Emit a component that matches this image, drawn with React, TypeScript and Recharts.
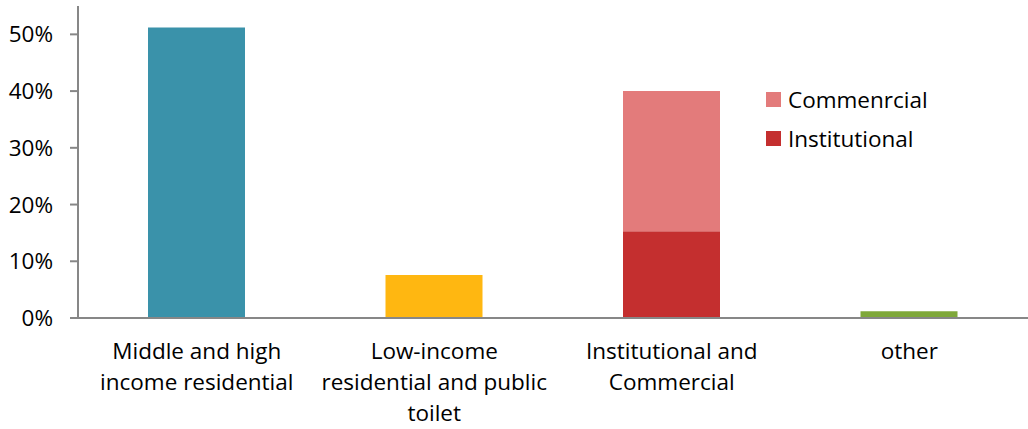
import React from "react";
import { BarChart, Bar, XAxis, YAxis, Cell } from "recharts";

const categories = [
  "Middle and high income residential",
  "Low-income residential and public toilet",
  "Institutional and Commercial",
  "other",
];
const tickLabelLines = [
  ["Middle and high", "income residential"],
  ["Low-income", "residential and public", "toilet"],
  ["Institutional and", "Commercial"],
  ["other"],
];
const baseValues = [0.512, 0.076, 0.153, 0.012];
const commercialValues = [0, 0, 0.247, 0];
const baseColors = ["#3A92AA", "#FFB711", "#C42F2F", "#7FA83A"];
const commercialColor = "#E37B7B";
const yTicks = [0, 0.1, 0.2, 0.3, 0.4, 0.5];
const legendItems = [
  { name: "Commenrcial", color: commercialColor },
  { name: "Institutional", color: "#C42F2F" },
];

const data = categories.map((c, i) => ({
  name: c,
  idx: i,
  base: baseValues[i],
  commercial: commercialValues[i],
}));

const FONT = "'Open Sans', sans-serif";
const FS = 22.5;

const XTick = (props: any) => {
  const { x, y, payload } = props;
  const lines = tickLabelLines[payload.index] || [String(payload.value)];
  return (
    <g>
      {lines.map((l: string, i: number) => (
        <text
          key={i}
          x={x}
          y={y + 33 + i * 31}
          textAnchor="middle"
          fontSize={FS}
          fontFamily={FONT}
          fill="#000"
        >
          {l}
        </text>
      ))}
    </g>
  );
};

export default function App() {
  return (
    <div style={{ position: "absolute", left: 0, top: 0, width: 1028, height: 429, background: "#fff" }}>
      <BarChart
        width={1028}
        height={429}
        data={data}
        margin={{ top: 6, right: 0, bottom: 0, left: 0 }}
      >
        <YAxis
          width={78}
          domain={[0, 0.55]}
          ticks={yTicks}
          allowDataOverflow
          tickFormatter={(v: number) => `${Math.round(v * 100)}%`}
          stroke="#878787"
          strokeWidth={2}
          tickSize={8}
          tickMargin={17}
          tick={{ fill: "#000", fontSize: FS, fontFamily: FONT }}
        />
        <XAxis
          dataKey="name"
          height={111}
          stroke="#878787"
          strokeWidth={2}
          tickLine={false}
          interval={0}
          tick={<XTick />}
        />
        <Bar dataKey="base" stackId="a" barSize={97} isAnimationActive={false}>
          {data.map((d, i) => (
            <Cell key={i} fill={baseColors[i]} />
          ))}
        </Bar>
        <Bar
          dataKey="commercial"
          stackId="a"
          barSize={97}
          fill={commercialColor}
          isAnimationActive={false}
        />
      </BarChart>
      <div
        style={{
          position: "absolute",
          left: 766,
          top: 80,
          fontFamily: FONT,
          fontSize: FS,
          color: "#000",
        }}
      >
        {legendItems.map((it) => (
          <div key={it.name} style={{ display: "flex", alignItems: "center", height: 39 }}>
            <div style={{ width: 15, height: 15, background: it.color, marginRight: 7 }} />
            <span>{it.name}</span>
          </div>
        ))}
      </div>
    </div>
  );
}
